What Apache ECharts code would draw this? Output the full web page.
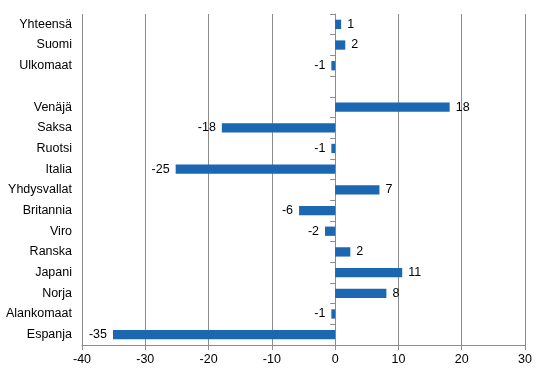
<!DOCTYPE html>
<html>
<head>
<meta charset="utf-8">
<script src="https://cdn.jsdelivr.net/npm/echarts@6/dist/echarts.min.js"></script>
<style>
  html, body { margin: 0; padding: 0; background: #fff; }
  #chart { width: 546px; height: 376px; }
</style>
</head>
<body>
<div id="chart"></div>
<script>
const categories = ['Yhteensä', 'Suomi', 'Ulkomaat', '', 'Venäjä', 'Saksa', 'Ruotsi', 'Italia',
  'Yhdysvallat', 'Britannia', 'Viro', 'Ranska', 'Japani', 'Norja', 'Alankomaat', 'Espanja'];
const values = [0.95, 1.6, -0.6, null, 18.1, -17.9, -0.6, -25.2,
  7.0, -5.7, -1.6, 2.4, 10.6, 8.1, -0.6, -35.1];
const xTicks = [-40, -30, -20, -10, 0, 10, 20, 30];

const gray = '#8c8c8c';
const font = 'Liberation Sans, Arial, sans-serif';

const chart = echarts.init(document.getElementById('chart'));

// positive labels to the right of the bar, negative ones to the left
const barData = values.map(v => {
  if (v === null) return '-';
  return {
    value: v,
    label: {position: v >= 0 ? 'right' : 'left'}
  };
});

chart.setOption({
  animation: false,
  grid: {left: 82, right: 21, top: 14, bottom: 31},
  xAxis: {
    type: 'value',
    min: xTicks[0],
    max: xTicks[xTicks.length - 1],
    interval: 10,
    axisLine: {show: true, onZero: false, lineStyle: {color: gray}},
    axisTick: {show: true, length: 5, lineStyle: {color: gray}},
    axisLabel: {color: '#000', fontSize: 12.5, fontFamily: font, margin: 8},
    splitLine: {show: true, lineStyle: {color: gray}}
  },
  yAxis: [{
    type: 'category',
    data: categories,
    inverse: true,
    axisLine: {show: false, onZero: false},
    axisTick: {show: false},
    axisLabel: {color: '#000', fontSize: 12.5, fontFamily: font, margin: 10}
  }, {
    // zero line with the category ticks
    type: 'category',
    data: categories,
    inverse: true,
    position: 'left',
    axisLine: {show: true, onZero: true, lineStyle: {color: gray}},
    axisTick: {show: true, length: 5, lineStyle: {color: gray}},
    axisLabel: {show: false}
  }],
  series: [{
    type: 'bar',
    yAxisIndex: 0,
    data: barData,
    barWidth: '45%',
    itemStyle: {color: '#1c67b2'},
    label: {
      show: true,
      distance: 6,
      color: '#000',
      fontSize: 12.5,
      fontFamily: font,
      formatter: p => Math.round(p.value)
    }
  }]
});
</script>
</body>
</html>
